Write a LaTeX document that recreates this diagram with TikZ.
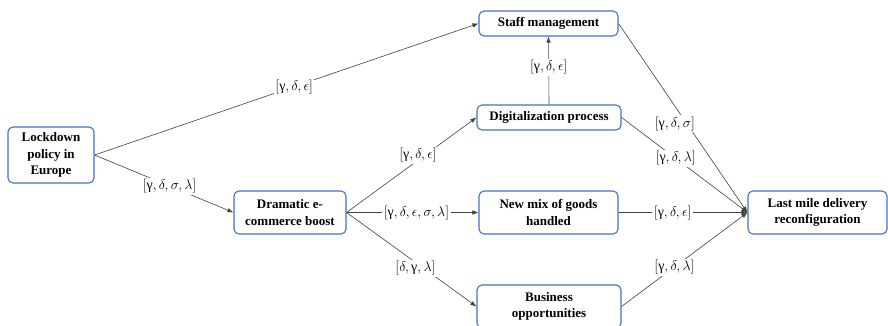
\RequirePackage{fix-cm}
\documentclass[tikz,border=0pt]{standalone}
\usepackage{fontspec}
\setmainfont{Liberation Serif}
\newfontfamily\grk{Liberation Serif}
\usetikzlibrary{arrows.meta}
\definecolor{boxblue}{HTML}{4472C4}
\definecolor{linegray}{HTML}{404040}
\newcommand{\gm}{\mbox{\grk γ}}
\tikzset{
  box/.style={draw=boxblue, line width=1.1pt, rounded corners=5pt, fill=white,
    font=\fontsize{13}{16.5}\selectfont\bfseries, align=center, inner sep=0pt},
  conn/.style={draw=linegray, line width=0.6pt, -{Latex[length=6pt,width=4.5pt]}},
  lab/.style={fill=white, inner sep=1.5pt, font=\fontsize{14}{16}\selectfont}
}
\begin{document}
\begin{tikzpicture}[x=1pt,y=-1pt]
\useasboundingbox (0,0) rectangle (888,326);
\node[box, minimum width=86pt, minimum height=56pt] (lock) at (51,155) {Lockdown\\policy in\\Europe};
\node[box, minimum width=112pt, minimum height=43pt] (dram) at (290,212.5) {Dramatic e-\\commerce boost};
\node[box, minimum width=139pt, minimum height=25pt] (staff) at (548.5,23.5) {Staff management};
\node[box, minimum width=144pt, minimum height=25pt] (dig) at (549,117.5) {Digitalization process};
\node[box, minimum width=139pt, minimum height=43pt] (mix) at (548.5,212.5) {New mix of goods\\handled};
\node[box, minimum width=144pt, minimum height=43pt] (bus) at (549,306.5) {Business\\opportunities};
\node[box, minimum width=139pt, minimum height=43pt] (last) at (817.5,212.5) {Last mile delivery\\reconfiguration};

\draw[conn] (lock.east) -- node[lab, pos=0.52] {$[\gm,\delta,\epsilon]$} (staff.west);
\draw[conn] (lock.east) -- node[lab, pos=0.54] {$[\gm,\delta,\sigma,\lambda]$} (dram.west);
\draw[conn] (dram.east) -- node[lab, pos=0.55, yshift=5pt] {$[\gm,\delta,\epsilon]$} (dig.west);
\draw[conn] (dram.east) -- node[lab, pos=0.53] {$[\gm,\delta,\epsilon,\sigma,\lambda]$} (mix.west);
\draw[conn] (dram.east) -- node[lab, pos=0.53, yshift=-6pt] {$[\delta,\gm,\lambda]$} (bus.west);
\draw[conn] (dig.north) -- node[lab, pos=0.55] {$[\gm,\delta,\epsilon]$} (staff.south);
\draw[conn] (staff.east) -- node[lab, pos=0.53, xshift=-12pt] {$[\gm,\delta,\sigma]$} (last.west);
\draw[conn] (dig.east) -- node[lab, pos=0.43] {$[\gm,\delta,\lambda]$} (last.west);
\draw[conn] (mix.east) -- node[lab, pos=0.42] {$[\gm,\delta,\epsilon]$} (last.west);
\draw[conn] (bus.east) -- node[lab, pos=0.42] {$[\gm,\delta,\lambda]$} (last.west);
\end{tikzpicture}
\end{document}
